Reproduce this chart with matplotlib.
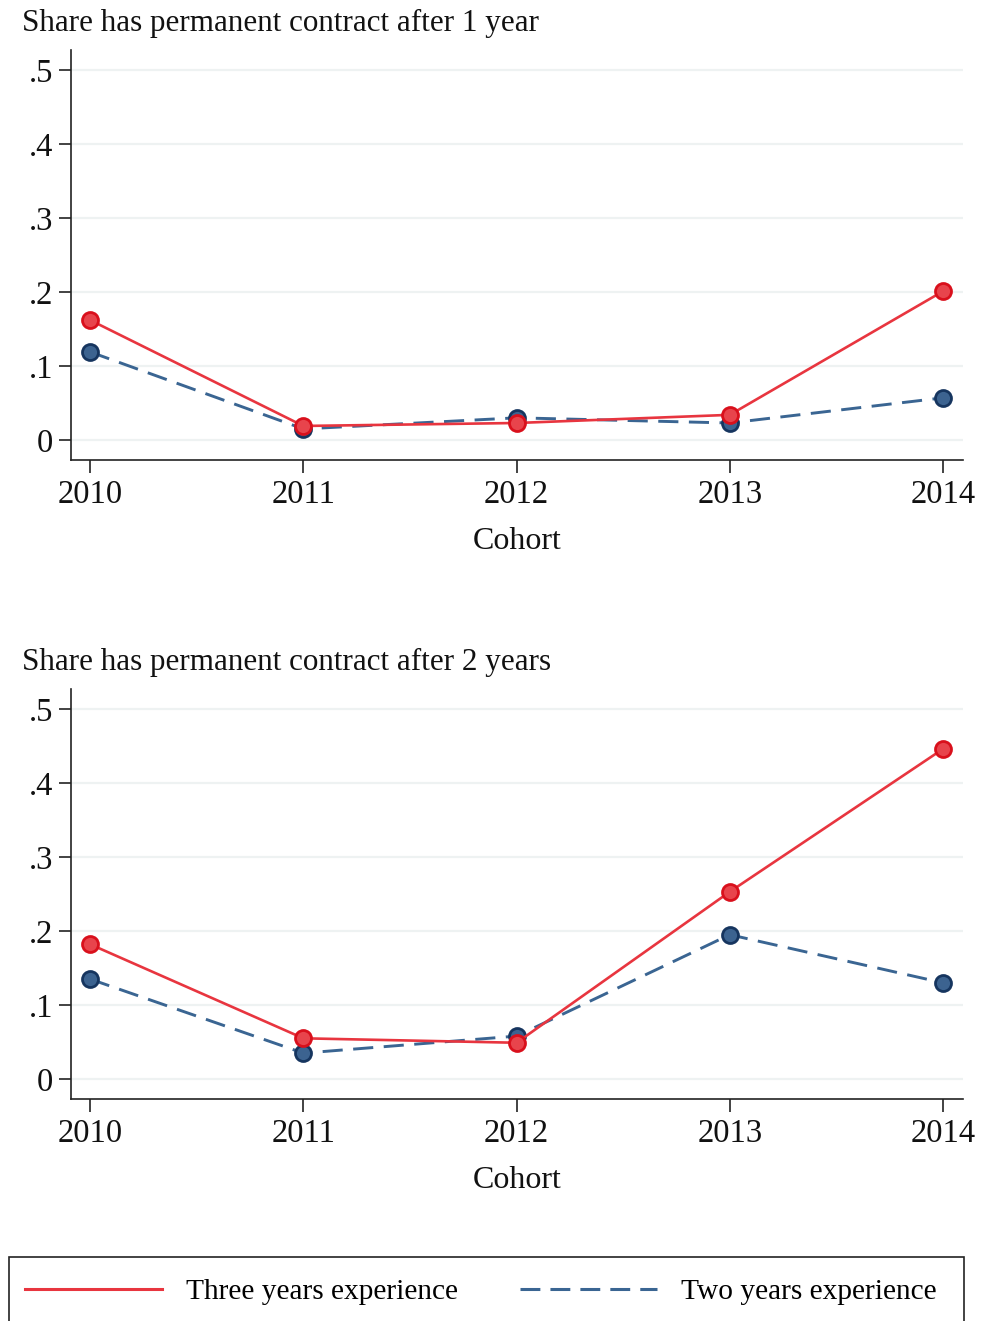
import matplotlib
matplotlib.use("Agg")
import matplotlib.pyplot as plt
from matplotlib.patches import Rectangle
from matplotlib.lines import Line2D

cohorts = [2010, 2011, 2012, 2013, 2014]
three_1yr = [0.162, 0.019, 0.023, 0.034, 0.201]
two_1yr = [0.119, 0.015, 0.030, 0.023, 0.057]
three_2yr = [0.182, 0.055, 0.049, 0.253, 0.446]
two_2yr = [0.135, 0.035, 0.058, 0.195, 0.130]
yticks = [0, 0.1, 0.2, 0.3, 0.4, 0.5]
ytick_labels = ["0", ".1", ".2", ".3", ".4", ".5"]
titles = ["Share has permanent contract after 1 year", "Share has permanent contract after 2 years"]
series_labels = ["Three years experience", "Two years experience"]

plt.rcParams['font.family'] = ['Liberation Serif', 'DejaVu Serif']

W, H = 981, 1321
fig = plt.figure(figsize=(W / 100, H / 100), dpi=100)

red_line = '#e8353f'
red_face = '#e8444c'
red_edge = '#d9101c'
blue_line = '#3a6592'
blue_face = '#3c6390'
blue_edge = '#16355f'
grid_col = '#eef2f2'
fs_tick = 23.5
fs_title = 22.4
fs_label = 23
fs_leg = 21.2

def px(x0, y0, x1, y1):
    return [x0 / W, 1 - y1 / H, (x1 - x0) / W, (y1 - y0) / H]

panels = [
    (px(71, 50, 963, 460), three_1yr, two_1yr, titles[0]),
    (px(71, 689, 963, 1099), three_2yr, two_2yr, titles[1]),
]

for rect, s3, s2, title in panels:
    ax = fig.add_axes(rect)
    ax.set_xlim(2009.91, 2014.094)
    ax.set_ylim(-0.027, 0.527)
    for y in yticks:
        ax.axhline(y, color=grid_col, lw=1.6, zorder=0)
    ax.plot(cohorts, s2, color=blue_line, lw=2.1, dashes=(6.9, 3.6), zorder=2,
            marker='o', ms=11.5, mfc=blue_face, mec=blue_edge, mew=2)
    ax.plot(cohorts, s3, color=red_line, lw=1.9, zorder=3,
            marker='o', ms=11.5, mfc=red_face, mec=red_edge, mew=2)
    ax.set_xticks(cohorts)
    ax.set_xticklabels([str(c) for c in cohorts], fontsize=fs_tick)
    ax.set_yticks(yticks)
    ax.set_yticklabels(ytick_labels, fontsize=fs_tick)
    ax.tick_params(axis='both', direction='out', length=9, width=1.2, colors='#222222',
                   labelcolor='#111111')
    ax.tick_params(axis='y', pad=4)
    ax.tick_params(axis='x', pad=5)
    for side in ['top', 'right']:
        ax.spines[side].set_visible(False)
    for side in ['left', 'bottom']:
        ax.spines[side].set_linewidth(1.2)
        ax.spines[side].set_color('#222222')
    ax.set_xlabel("Cohort", fontsize=fs_label, labelpad=12, color='#111111')
    ax.set_title(title, fontsize=fs_title, loc='left', x=-0.055, y=1.0, pad=14, color='#111111')

# Legend box
fig.patches.append(Rectangle((9 / W, 1 - 1325 / H), 955 / W, 68 / H, transform=fig.transFigure,
                             fill=False, edgecolor='#222222', lw=1.2))
handles = [Line2D([], [], color=red_line, lw=2.2),
           Line2D([], [], color=blue_line, lw=2.2, dashes=(6.5, 3.3))]
fig.legend(handles, series_labels, loc='center left', bbox_to_anchor=(25 / W, 1 - 1292 / H),
           ncol=2, frameon=False, fontsize=fs_leg, handlelength=4.65, handletextpad=0.82,
           columnspacing=2.1, borderpad=0, borderaxespad=0)

fig.savefig("out.png", dpi=100, facecolor='white')
